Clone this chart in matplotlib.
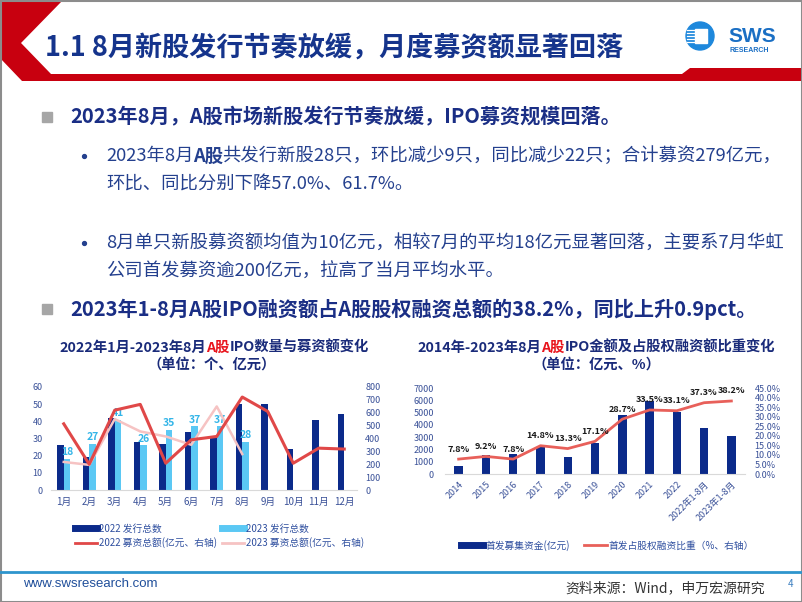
import matplotlib
matplotlib.use('Agg')
import matplotlib.pyplot as plt
import numpy as np
from matplotlib.patches import Polygon, Rectangle, Circle
from matplotlib.lines import Line2D

plt.rcParams['font.family'] = ['Noto Sans CJK SC', 'DejaVu Sans']
plt.rcParams['axes.unicode_minus'] = False

# left chart data
months = ['1月', '2月', '3月', '4月', '5月', '6月', '7月', '8月', '9月', '10月', '11月', '12月']
ipo_count_2022 = [26, 19, 42, 28, 27, 34, 31, 50, 50, 24, 41, 44]
ipo_count_2023 = [18, 27, 41, 26, 35, 37, 37, 28]
ipo_amount_2022 = [514, 200, 620, 665, 208, 390, 416, 722, 610, 208, 325, 318]
ipo_amount_2023 = [218, 195, 551, 455, 416, 351, 649, 279]

# right chart data
years = ['2014', '2015', '2016', '2017', '2018', '2019', '2020', '2021', '2022',
         '2022年1-8月', '2023年1-8月']
ipo_funds = [650, 1575, 1630, 2200, 1360, 2525, 4800, 5970, 5050, 3720, 3090]
ipo_share = [7.8, 9.2, 7.8, 14.8, 13.3, 17.1, 28.7, 33.5, 33.1, 37.3, 38.2]

W, H = 802, 602
NAVY = '#0B2A8A'
LBLUE = '#5BC8F4'
RED = '#E04848'
PINK = '#F6C3C3'
TICK = '#3A5198'
TITLE = '#15348C'
BOLDTXT = '#1A2E85'
SUBTXT = '#24408E'


def fx(x):
    return x / W


def fy(y):
    return 1 - y / H


fig = plt.figure(figsize=(8.02, 6.02), dpi=100)
renderer = fig.canvas.get_renderer()

# slide background in pixel coordinates
bg = fig.add_axes([0, 0, 1, 1])
bg.set_xlim(0, W)
bg.set_ylim(H, 0)
bg.axis('off')


def rich(x, y, parts, size, ha='left'):
    # several text pieces with their own styles, laid out on one line
    # each part: (text, style, extra shift in px after it)
    texts = [bg.text(0, y, s, fontsize=size, va='center', **st) for s, st, _ in parts]
    widths = [t.get_window_extent(renderer).width + k for t, (_, _, k) in zip(texts, parts)]
    cur = x - sum(widths) / 2 if ha == 'center' else x
    for t, w in zip(texts, widths):
        t.set_x(cur)
        cur += w


# header band
bg.add_patch(Polygon([(0, 0), (63, 0), (21, 43), (51, 74), (682, 74), (690, 68),
                      (802, 68), (802, 81), (22, 81), (0, 58)],
                     closed=True, color='#C8000F', lw=0))
bg.text(45, 48, '1.1 8月新股发行节奏放缓，月度募资额显著回落', fontsize=19.5,
        fontweight='bold', color=TITLE, va='center')

# logo
bg.add_patch(Circle((700, 36), 14, color='#1E88DC'))
bg.add_patch(Rectangle((695, 29), 12, 14, color='white'))
for yy in [30, 33, 36, 39, 42]:
    bg.plot([687, 696], [yy, yy], color='white', lw=0.9)
bg.text(728, 37, 'SWS', fontsize=15, fontweight='bold', color='#1A6FC4',
        family='Liberation Sans', va='center')
bg.text(730, 51, 'RESEARCH', fontsize=5, fontweight='bold', color='#1A6FC4',
        family='Liberation Sans', va='center')

# bullets
bg.add_patch(Rectangle((42, 112), 10, 10, color='#A6A6A6'))
bg.text(70, 117, '2023年8月，A股市场新股发行节奏放缓，IPO募资规模回落。', fontsize=14.5,
        fontweight='bold', color=BOLDTXT, va='center')
bg.plot([84, 84], [156, 243], ls='none', marker='o', ms=2.8, color=SUBTXT)
rich(106, 156, [('2023年8月', dict(color=SUBTXT), 0),
                ('A股', dict(color=SUBTXT, fontweight='bold'), -1.5),
                ('共发行新股28只，环比减少9只，同比减少22只；合计募资279亿元，', dict(color=SUBTXT), 0)],
     13.2)
bg.text(106, 185, '环比、同比分别下降57.0%、61.7%。', fontsize=13.2, color=SUBTXT, va='center')
bg.text(106, 243, '8月单只新股募资额均值为10亿元，相较7月的平均18亿元显著回落，主要系7月华虹',
        fontsize=13.2, color=SUBTXT, va='center')
bg.text(106, 272, '公司首发募资逾200亿元，拉高了当月平均水平。', fontsize=13.2, color=SUBTXT,
        va='center')
bg.add_patch(Rectangle((42, 304), 10, 10, color='#A6A6A6'))
bg.text(70, 309, '2023年1-8月A股IPO融资额占A股股权融资总额的38.2%，同比上升0.9pct。',
        fontsize=14.5, fontweight='bold', color=BOLDTXT, va='center')

# chart titles
tstyle = dict(color='#1A2B7A', fontweight='bold')
rstyle = dict(color='#E8141C', fontweight='bold')
rich(214, 348, [('2022年1月-2023年8月', tstyle, 0), ('A股', rstyle, 0),
                ('IPO数量与募资额变化', tstyle, 0)], 10.3, ha='center')
bg.text(212, 365, '（单位：个、亿元）', fontsize=10.3, ha='center', va='center', **tstyle)
rich(596, 348, [('2014年-2023年8月', tstyle, 0), ('A股', rstyle, 0),
                ('IPO金额及占股权融资额比重变化', tstyle, 0)], 10.3, ha='center')
bg.text(596, 365, '（单位：亿元、%）', fontsize=10.3, ha='center', va='center', **tstyle)

# footer
bg.plot([0, W], [572, 572], color='#2E95CD', lw=2)
bg.text(23, 584, 'www.swsresearch.com', fontsize=9.5, color='#1F4E9A',
        family='Liberation Sans', va='center')
bg.text(765, 588, '资料来源：Wind，申万宏源研究', fontsize=10, color='#333333',
        ha='right', va='center')
bg.text(790, 584, '4', fontsize=7, color='#3C7FC0', ha='center', va='center')
bg.add_patch(Rectangle((0.5, 0.5), W - 1, H - 1, fill=False, edgecolor='#8C8C8C',
                       lw=1.5, clip_on=False))

# ---------- left chart ----------
ax1 = fig.add_axes([fx(51), fy(490), (357 - 51) / W, (490 - 387) / H])
x = np.arange(len(months))
x23 = np.arange(len(ipo_count_2023))
ax1.bar(x - 0.13, ipo_count_2022, width=0.26, color=NAVY)
ax1.bar(x23 + 0.13, ipo_count_2023, width=0.26, color=LBLUE)
for xi, v in zip(x23, ipo_count_2023):
    ax1.text(xi + 0.13, v + 1, str(v), ha='center', va='bottom', fontsize=7.5,
             fontweight='bold', color='#33B5E8')
ax1.set_xlim(-0.5, 11.5)
ax1.set_ylim(0, 60)
ax1.set_yticks(range(0, 61, 10))
ax1.set_xticks(x)
ax1.set_xticklabels(months)
ax1.tick_params(axis='y', length=0, pad=6, labelsize=6.5, labelcolor=TICK)
ax1.tick_params(axis='x', length=0, pad=5, labelsize=7, labelcolor=TICK)
for s in ['top', 'left', 'right']:
    ax1.spines[s].set_visible(False)
ax1.spines['bottom'].set_color('#D9D9D9')

ax2 = ax1.twinx()
ax2.plot(x23, ipo_amount_2023, color=PINK, lw=1.8)
ax2.plot(x, ipo_amount_2022, color=RED, lw=2.2)
ax2.set_ylim(0, 800)
ax2.set_yticks(range(0, 801, 100))
ax2.tick_params(axis='y', length=0, pad=6, labelsize=6.5, labelcolor=TICK)
for s in ax2.spines.values():
    s.set_visible(False)

h1 = [Line2D([], [], color=NAVY, lw=5), Line2D([], [], color=RED, lw=2),
      Line2D([], [], color=LBLUE, lw=5), Line2D([], [], color=PINK, lw=2)]
l1 = ['2022 发行总数', '2022 募资总额(亿元、右轴)', '2023 发行总数', '2023 募资总额(亿元、右轴)']
fig.legend(h1, l1, loc='upper left', bbox_to_anchor=(fx(70), fy(519)), ncol=2,
           frameon=False, fontsize=7, handlelength=2.3, handletextpad=0.2,
           columnspacing=0.5, labelspacing=0.35, borderpad=0, labelcolor='#2F4F9F')

# ---------- right chart ----------
ax3 = fig.add_axes([fx(445), fy(474), 300 / W, (474 - 388) / H])
xr = np.arange(len(years))
ax3.bar(xr, ipo_funds, width=0.31, color=NAVY)
ax3.set_xlim(-0.5, len(years) - 0.5)
ax3.set_ylim(0, 7000)
ax3.set_yticks(range(0, 7001, 1000))
ax3.set_xticks(xr)
ax3.set_xticklabels(years, rotation=45, ha='right', rotation_mode='anchor')
ax3.tick_params(axis='y', length=0, pad=8, labelsize=6.5, labelcolor=TICK)
ax3.tick_params(axis='x', length=0, pad=4, labelsize=6.5, labelcolor=TICK)
for s in ['top', 'left', 'right']:
    ax3.spines[s].set_visible(False)
ax3.spines['bottom'].set_color('#D9D9D9')

ax4 = ax3.twinx()
ax4.plot(xr, ipo_share, color='#E8605A', lw=2)
for xi, v in zip(xr, ipo_share):
    ax4.annotate(f'{v}%', (xi, v), xytext=(0, 4), textcoords='offset points',
                 ha='center', va='bottom', fontsize=6.5, fontweight='bold',
                 color='#1A1A1A')
ax4.set_ylim(0, 45)
ax4.set_yticks(np.arange(0, 46, 5))
ax4.set_yticklabels([f'{t:.1f}%' for t in np.arange(0, 46, 5)])
ax4.tick_params(axis='y', length=0, pad=7, labelsize=6.5, labelcolor=TICK)
for s in ax4.spines.values():
    s.set_visible(False)

h2 = [Line2D([], [], color=NAVY, lw=5), Line2D([], [], color='#E8605A', lw=2)]
l2 = ['首发募集资金(亿元)', '首发占股权融资比重（%、右轴）']
fig.legend(h2, l2, loc='upper left', bbox_to_anchor=(fx(456), fy(535)), ncol=2,
           frameon=False, fontsize=7, handlelength=2.3, handletextpad=0.2,
           columnspacing=1.5, borderpad=0, labelcolor='#2F4F9F')

fig.savefig('out.png', dpi=100)
